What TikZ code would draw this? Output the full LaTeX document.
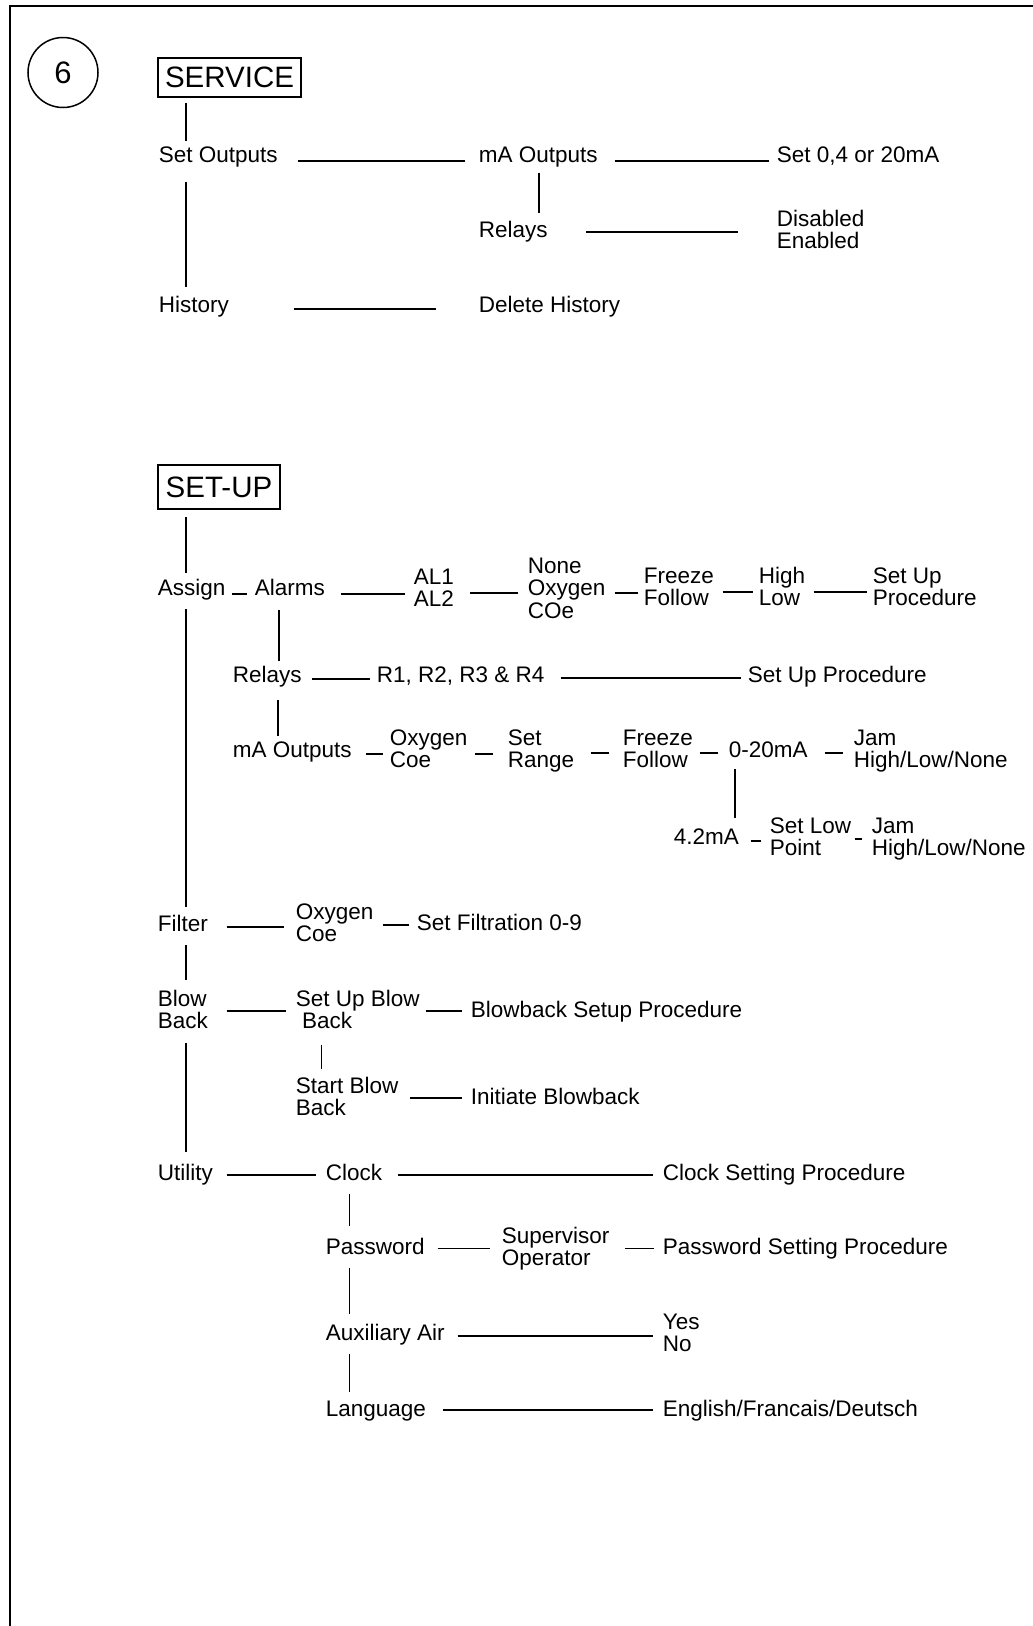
\documentclass[tikz,border=0pt]{standalone}
\usepackage{fontspec}
\setmainfont{Liberation Sans}
\newcommand\fs{\fontsize{22.5}{22.5}\selectfont}
\newcommand\stk[1]{\vtop{\baselineskip=22.5pt\lineskiplimit=-100pt\lineskip=0pt #1}}
\newcommand\hc[5]{\draw[shorten <=#3pt, shorten >=#4pt] (#1.east |- 0,#5) -- (#2.west |- 0,#5);}
\newcommand\vc[5]{\draw[shorten <=#3pt, shorten >=#4pt] (#1.south -| #5,0) -- (#2.north -| #5,0);}
\begin{document}
\begin{tikzpicture}[x=1pt,y=-1pt,line width=1.7pt,
  lbl/.style={anchor=base west, inner sep=0pt, font=\fs, text height=16.1pt, text depth=4.7pt},
  mlbl/.style={anchor=base west, inner sep=0pt, font=\fs},
  titlebox/.style={draw, line width=2pt, inner sep=0pt, font=\fontsize{29.5}{29.5}\selectfont}]
\useasboundingbox (0,0) rectangle (1033,1626);
\draw[line width=2pt] (1034,6) -- (10,6) -- (10,1627);
\node[circle,draw,line width=1.5pt,minimum size=70pt,inner sep=0pt,font=\fontsize{31}{31}\selectfont] (six) at (63,72.5) {6};
\node[titlebox, minimum width=143pt, minimum height=39pt] (service) at (229.5,77) {SERVICE};
\node[titlebox, minimum width=122pt, minimum height=44pt] (setup) at (219,487) {SET-UP};
% SERVICE
\node[lbl] (setout) at (158,162) {Set Outputs};
\node[lbl] (maout) at (478,162) {mA Outputs};
\node[lbl] (set04) at (776,162) {Set 0,4 or 20mA};
\node[lbl] (relays) at (478,237) {Relays};
\node[mlbl] (disen) at (776,226) {\stk{\hbox{Disabled}\hbox{Enabled}}};
\node[lbl] (history) at (158,312) {History};
\node[lbl] (delhist) at (478,312) {Delete History};
\vc{service}{setout}{5.5}{3.9}{186}
\vc{setout}{history}{14.3}{7.9}{186}
\vc{maout}{relays}{5}{7}{539}
\hc{setout}{maout}{19}{13}{161}
\hc{maout}{set04}{16}{7}{161}
\hc{relays}{disen}{38}{38}{232}
\hc{history}{delhist}{64}{42}{309}
% SET-UP
\node[lbl] (assign) at (157,595) {Assign};
\node[lbl] (alarms) at (254,595) {Alarms};
\node[mlbl] (al) at (413,584) {\stk{\hbox{AL1}\hbox{AL2}}};
\node[mlbl] (noc) at (527,573) {\stk{\hbox{None}\hbox{Oxygen}\hbox{COe}}};
\node[mlbl] (ff1) at (643,583) {\stk{\hbox{Freeze}\hbox{Follow}}};
\node[mlbl] (hl) at (758,583) {\stk{\hbox{High}\hbox{Low}}};
\node[mlbl] (sup1) at (872,583) {\stk{\hbox{Set Up}\hbox{Procedure}}};
\node[lbl] (relays2) at (232,682) {Relays};
\node[lbl] (r1) at (376,682) {R1, R2, R3 \& R4};
\node[lbl] (sup2) at (747,682) {Set Up Procedure};
\node[lbl] (maout2) at (232,757) {mA Outputs};
\node[mlbl] (oc1) at (389,745) {\stk{\hbox{Oxygen}\hbox{Coe}}};
\node[mlbl] (sr) at (507,745) {\stk{\hbox{Set}\hbox{Range}}};
\node[mlbl] (ff2) at (622,745) {\stk{\hbox{Freeze}\hbox{Follow}}};
\node[lbl] (z20) at (728,757) {0-20mA};
\node[mlbl] (jam1) at (853,745) {\stk{\hbox{Jam}\hbox{High/Low/None}}};
\node[lbl] (m42) at (673,844) {4.2mA};
\node[mlbl] (slp) at (769,833) {\stk{\hbox{Set Low}\hbox{Point}}};
\node[mlbl] (jam2) at (871,833) {\stk{\hbox{Jam}\hbox{High/Low/None}}};
% lower
\node[lbl] (filter) at (157,931) {Filter};
\node[mlbl] (oc2) at (295,919) {\stk{\hbox{Oxygen}\hbox{Coe}}};
\node[lbl] (sf) at (416,930) {Set Filtration 0-9};
\node[mlbl] (bb) at (157,1006) {\stk{\hbox{Blow}\hbox{Back}}};
\node[mlbl] (subb) at (295,1006) {\stk{\hbox{Set Up Blow}\hbox{\ Back}}};
\node[lbl] (bbsp) at (470,1017) {Blowback Setup Procedure};
\node[mlbl] (sbb) at (295,1093) {\stk{\hbox{Start Blow}\hbox{Back}}};
\node[lbl] (ib) at (470,1104) {Initiate Blowback};
\node[lbl] (utility) at (157,1180) {Utility};
\node[lbl] (clock) at (325,1180) {Clock};
\node[lbl] (csp) at (662,1180) {Clock Setting Procedure};
\node[lbl] (password) at (325,1254.6) {Password};
\node[mlbl] (supop) at (501,1243) {\stk{\hbox{Supervisor}\hbox{Operator}}};
\node[lbl] (psp) at (662,1254.6) {Password Setting Procedure};
\node[lbl] (aux) at (325,1340.7) {Auxiliary Air};
\node[mlbl] (yn) at (662,1329) {\stk{\hbox{Yes}\hbox{No}}};
\node[lbl] (lang) at (325,1416) {Language};
\node[lbl] (efd) at (662,1416) {English/Francais/Deutsch};
% SET-UP connectors
\vc{setup}{assign}{7}{5}{186}
\vc{assign}{filter}{8.3}{7}{186}
\hc{assign}{alarms}{5.5}{7}{594}
\hc{alarms}{al}{15}{8}{594}
\hc{al}{noc}{15}{9}{593}
\hc{noc}{ff1}{8.5}{5}{593}
\hc{ff1}{hl}{8}{5}{592}
\hc{hl}{sup1}{7.7}{5}{592}
\vc{alarms}{relays2}{9.3}{4}{279}
\hc{relays2}{r1}{9.2}{6}{679}
\hc{r1}{sup2}{15.4}{6}{678}
\vc{relays2}{maout2}{12.3}{4}{278}
\hc{maout2}{oc1}{13.2}{6}{754}
\hc{oc1}{sr}{6.5}{14}{754}
\hc{sr}{ff2}{15.7}{13}{753}
\hc{ff2}{z20}{6}{10}{753}
\hc{z20}{jam1}{16.2}{10}{753}
\vc{z20}{m42}{6.3}{9}{735}
\hc{m42}{slp}{11}{8}{841}
\hc{slp}{jam2}{2.7}{9}{839}
% lower connectors
\hc{filter}{oc2}{18}{11}{927}
\hc{oc2}{sf}{8.5}{7}{925}
\vc{filter}{bb}{8.3}{8.9}{186}
\hc{bb}{subb}{18}{9}{1011}
\hc{subb}{bbsp}{5.2}{8}{1011}
\vc{bb}{utility}{13.3}{10.9}{186}
\vc{subb}{sbb}{15.3}{6.9}{321.5}
\hc{sbb}{ib}{10.5}{8}{1098}
\hc{utility}{clock}{13}{9}{1175}
\hc{clock}{csp}{14.7}{9}{1175}
\vc{clock}{password}{8.3}{11.5}{349.5}
\hc{password}{supop}{12.2}{11}{1248.6}
\hc{supop}{psp}{14.5}{8}{1248.6}
\vc{password}{aux}{7.7}{9.6}{349.5}
\hc{aux}{yn}{12.2}{9}{1336}
\vc{aux}{lang}{7.6}{6.9}{349.5}
\hc{lang}{efd}{16}{9}{1410}
\end{tikzpicture}
\end{document}
